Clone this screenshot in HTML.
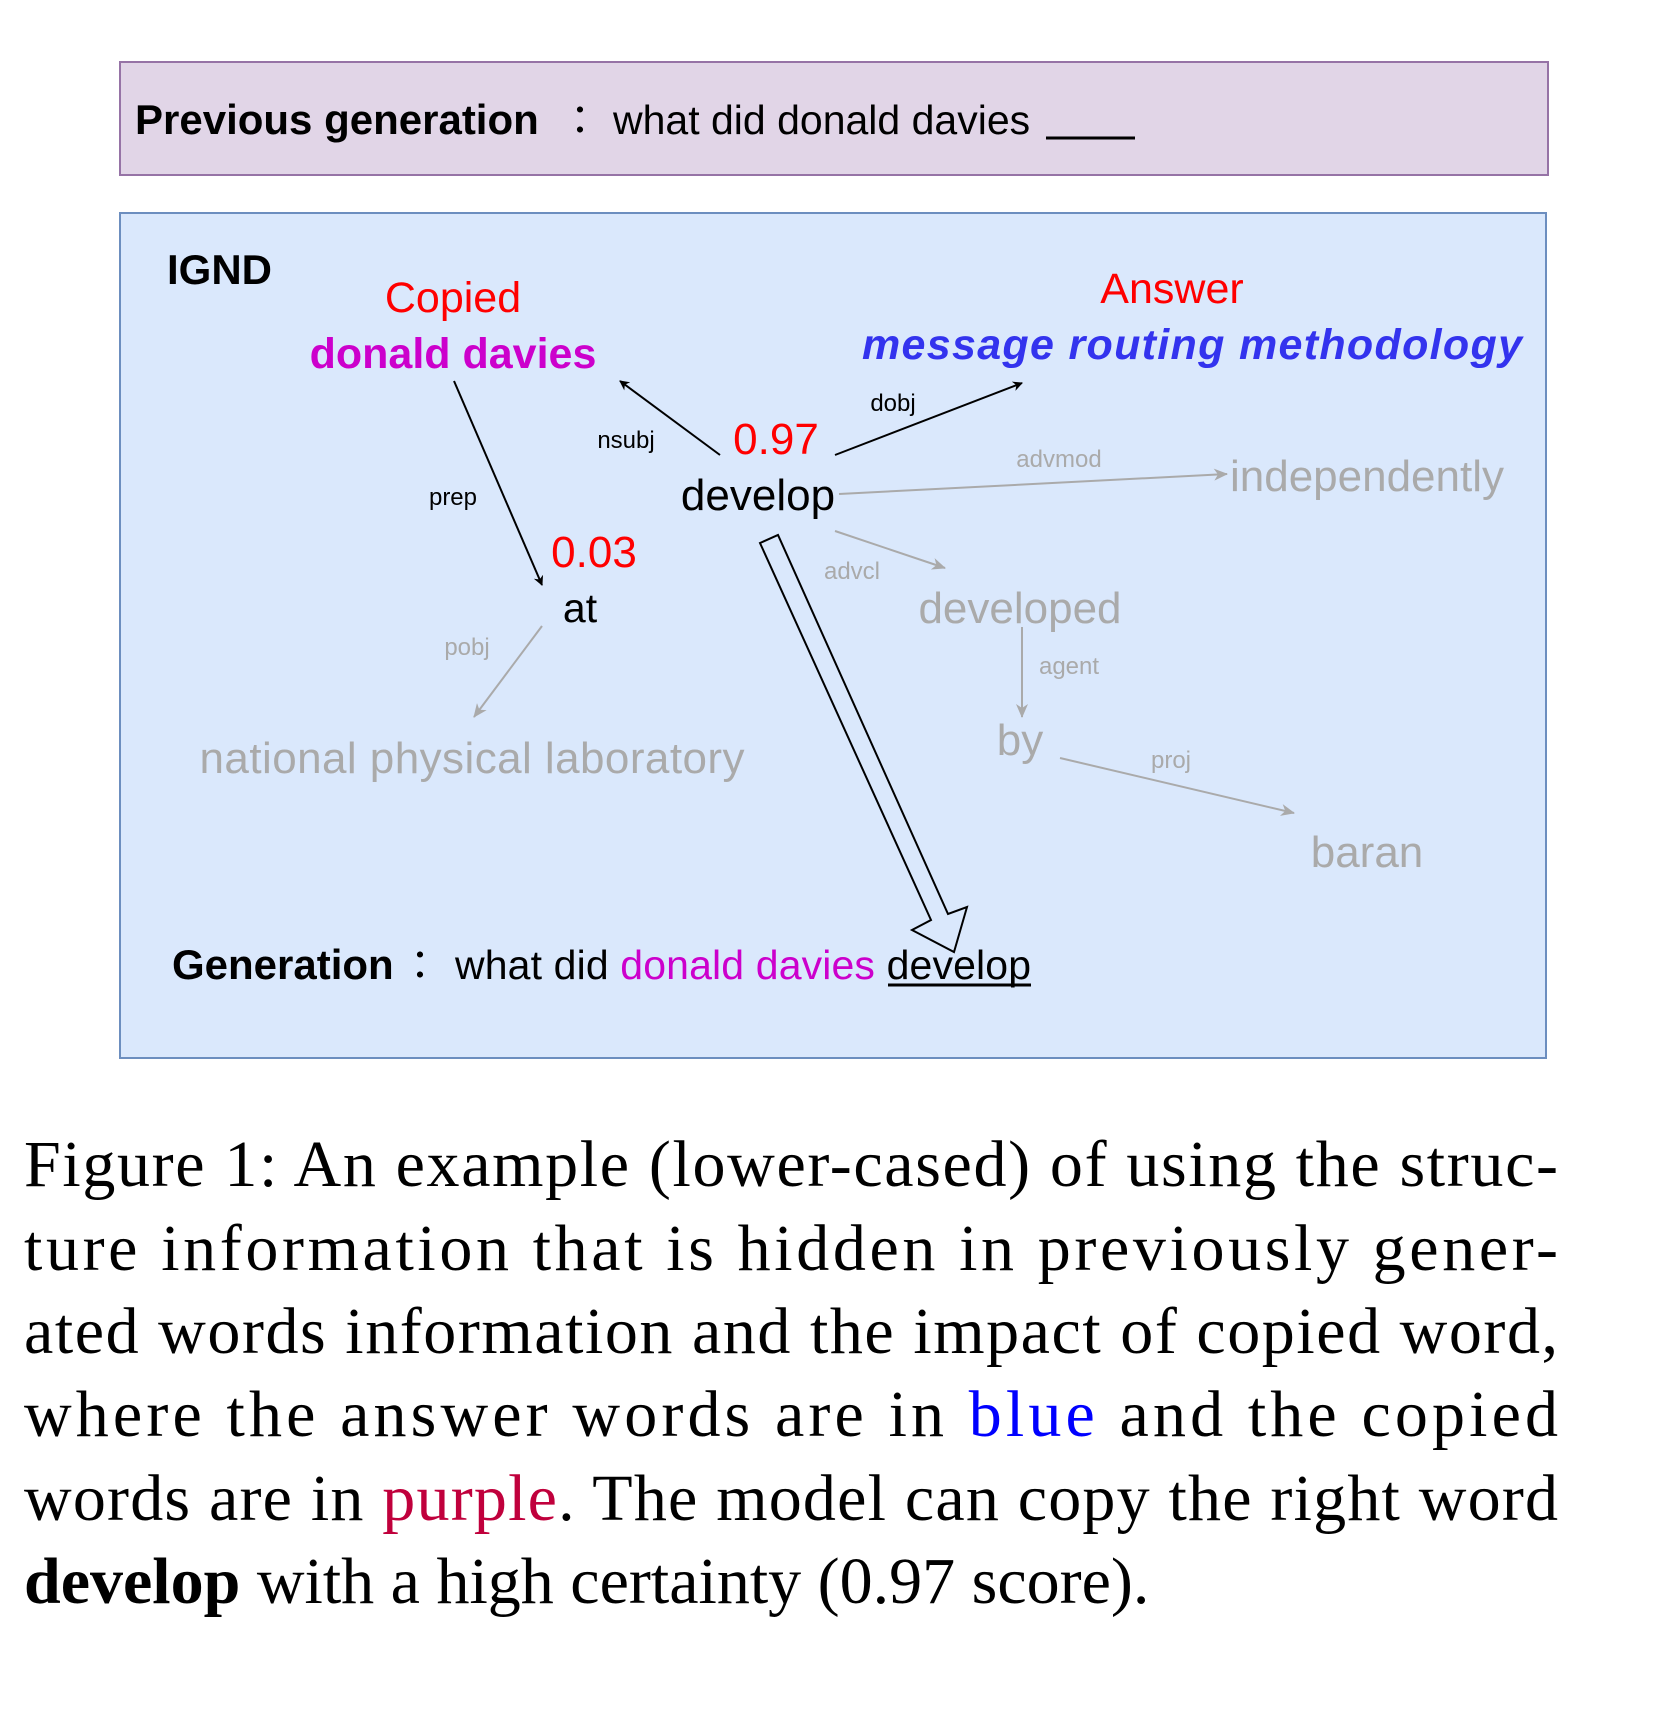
<!DOCTYPE html>
<html><head><meta charset="utf-8"><style>
html,body{margin:0;padding:0;background:#fff;}
body{width:1656px;height:1712px;position:relative;overflow:hidden;}
</style></head><body>
<svg width="1656" height="1712" style="position:absolute;left:0;top:0" font-family="Liberation Sans, sans-serif">
<defs>
<marker id="ab" markerWidth="10" markerHeight="10" refX="9" refY="5" orient="auto" markerUnits="userSpaceOnUse"><path d="M0,0 L10,5 L0,10 L3,5 z" fill="#000"/></marker>
<marker id="ag" markerWidth="14" markerHeight="12" refX="13" refY="6" orient="auto" markerUnits="userSpaceOnUse"><path d="M0,0 L14,6 L0,12 L4,6 z" fill="#aaa"/></marker>
</defs>
<rect x="120" y="62" width="1428" height="113" fill="#e1d5e7" stroke="#9673a6" stroke-width="2"/>
<text x="135" y="134" font-size="42" font-weight="bold">Previous generation</text>
<text x="570" y="132" font-size="40" font-family="Noto Sans CJK SC, sans-serif">：</text>
<text x="613" y="134" font-size="41">what did donald davies</text>
<line x1="1046" y1="138" x2="1135" y2="138" stroke="#000" stroke-width="3"/>
<rect x="120" y="213" width="1426" height="845" fill="#dae8fc" stroke="#6c8ebf" stroke-width="2"/>
<text x="167" y="284" font-size="42" font-weight="bold">IGND</text>
<text x="453" y="312" font-size="43" fill="#ff0000" text-anchor="middle">Copied</text>
<text x="453" y="368" font-size="43" fill="#cc00cc" font-weight="bold" text-anchor="middle">donald davies</text>
<text x="1172" y="303" font-size="43" fill="#ff0000" text-anchor="middle">Answer</text>
<text x="1192" y="359" font-size="43" fill="#3333ee" font-weight="bold" font-style="italic" text-anchor="middle" textLength="660">message routing methodology</text>
<text x="626" y="448" font-size="24" text-anchor="middle">nsubj</text>
<text x="776" y="454" font-size="44" fill="#ff0000" text-anchor="middle">0.97</text>
<text x="758" y="510" font-size="44" text-anchor="middle">develop</text>
<text x="893" y="411" font-size="24" text-anchor="middle">dobj</text>
<text x="1059" y="467" font-size="24" fill="#aaa" text-anchor="middle">advmod</text>
<text x="1367" y="491" font-size="44" fill="#aaa" text-anchor="middle">independently</text>
<text x="453" y="505" font-size="24" text-anchor="middle">prep</text>
<text x="594" y="567" font-size="44" fill="#ff0000" text-anchor="middle">0.03</text>
<text x="580" y="622" font-size="41" text-anchor="middle">at</text>
<text x="852" y="579" font-size="24" fill="#aaa" text-anchor="middle">advcl</text>
<text x="1020" y="623" font-size="44" fill="#aaa" text-anchor="middle">developed</text>
<text x="1069" y="674" font-size="24" fill="#aaa" text-anchor="middle">agent</text>
<text x="467" y="655" font-size="24" fill="#aaa" text-anchor="middle">pobj</text>
<text x="472" y="773" font-size="44" fill="#aaa" text-anchor="middle" textLength="545">national physical laboratory</text>
<text x="1020" y="755" font-size="44" fill="#aaa" text-anchor="middle">by</text>
<text x="1171" y="768" font-size="24" fill="#aaa" text-anchor="middle">proj</text>
<text x="1367" y="867" font-size="44" fill="#aaa" text-anchor="middle">baran</text>
<line x1="720" y1="455" x2="620" y2="381" stroke="#000" stroke-width="2" marker-end="url(#ab)"/>
<line x1="835" y1="455" x2="1022" y2="383" stroke="#000" stroke-width="2" marker-end="url(#ab)"/>
<line x1="454" y1="381" x2="542" y2="585" stroke="#000" stroke-width="2" marker-end="url(#ab)"/>
<line x1="839" y1="494" x2="1227" y2="474" stroke="#aaa" stroke-width="2" marker-end="url(#ag)"/>
<line x1="542" y1="626" x2="474" y2="717" stroke="#aaa" stroke-width="2" marker-end="url(#ag)"/>
<line x1="835" y1="531" x2="945" y2="568" stroke="#aaa" stroke-width="2" marker-end="url(#ag)"/>
<line x1="1022" y1="627" x2="1022" y2="717" stroke="#aaa" stroke-width="2" marker-end="url(#ag)"/>
<line x1="1060" y1="758" x2="1294" y2="813" stroke="#aaa" stroke-width="2" marker-end="url(#ag)"/>
<polygon points="760,543 778,535 948,914 967,907 954,952 912,930 931,920" fill="none" stroke="#000" stroke-width="2"/>
<text x="172" y="979" font-size="42" font-weight="bold">Generation</text>
<text x="410" y="977" font-size="40" font-family="Noto Sans CJK SC, sans-serif">：</text>
<text x="455" y="979" font-size="41" textLength="576">what did <tspan fill="#cc00cc">donald davies</tspan> develop</text>
<line x1="888" y1="985" x2="1031" y2="985" stroke="#000" stroke-width="3"/>
<g font-family="Liberation Serif, serif" font-size="66" fill="#000">
<text x="24" y="1186" textLength="1534" lengthAdjust="spacing">Figure 1: An example (lower-cased) of using the struc-</text>
<text x="24" y="1270" textLength="1534" lengthAdjust="spacing">ture information that is hidden in previously gener-</text>
<text x="24" y="1353" textLength="1534" lengthAdjust="spacing">ated words information and the impact of copied word,</text>
<text x="24" y="1436" textLength="1534" lengthAdjust="spacing">where the answer words are in <tspan fill="#0000ff">blue</tspan> and the copied</text>
<text x="24" y="1520" textLength="1534" lengthAdjust="spacing">words are in <tspan fill="#c0003c">purple</tspan>. The model can copy the right word</text>
<text x="24" y="1603"><tspan font-weight="bold">develop</tspan> with a high certainty (0.97 score).</text>
</g>
</svg>
</body></html>
